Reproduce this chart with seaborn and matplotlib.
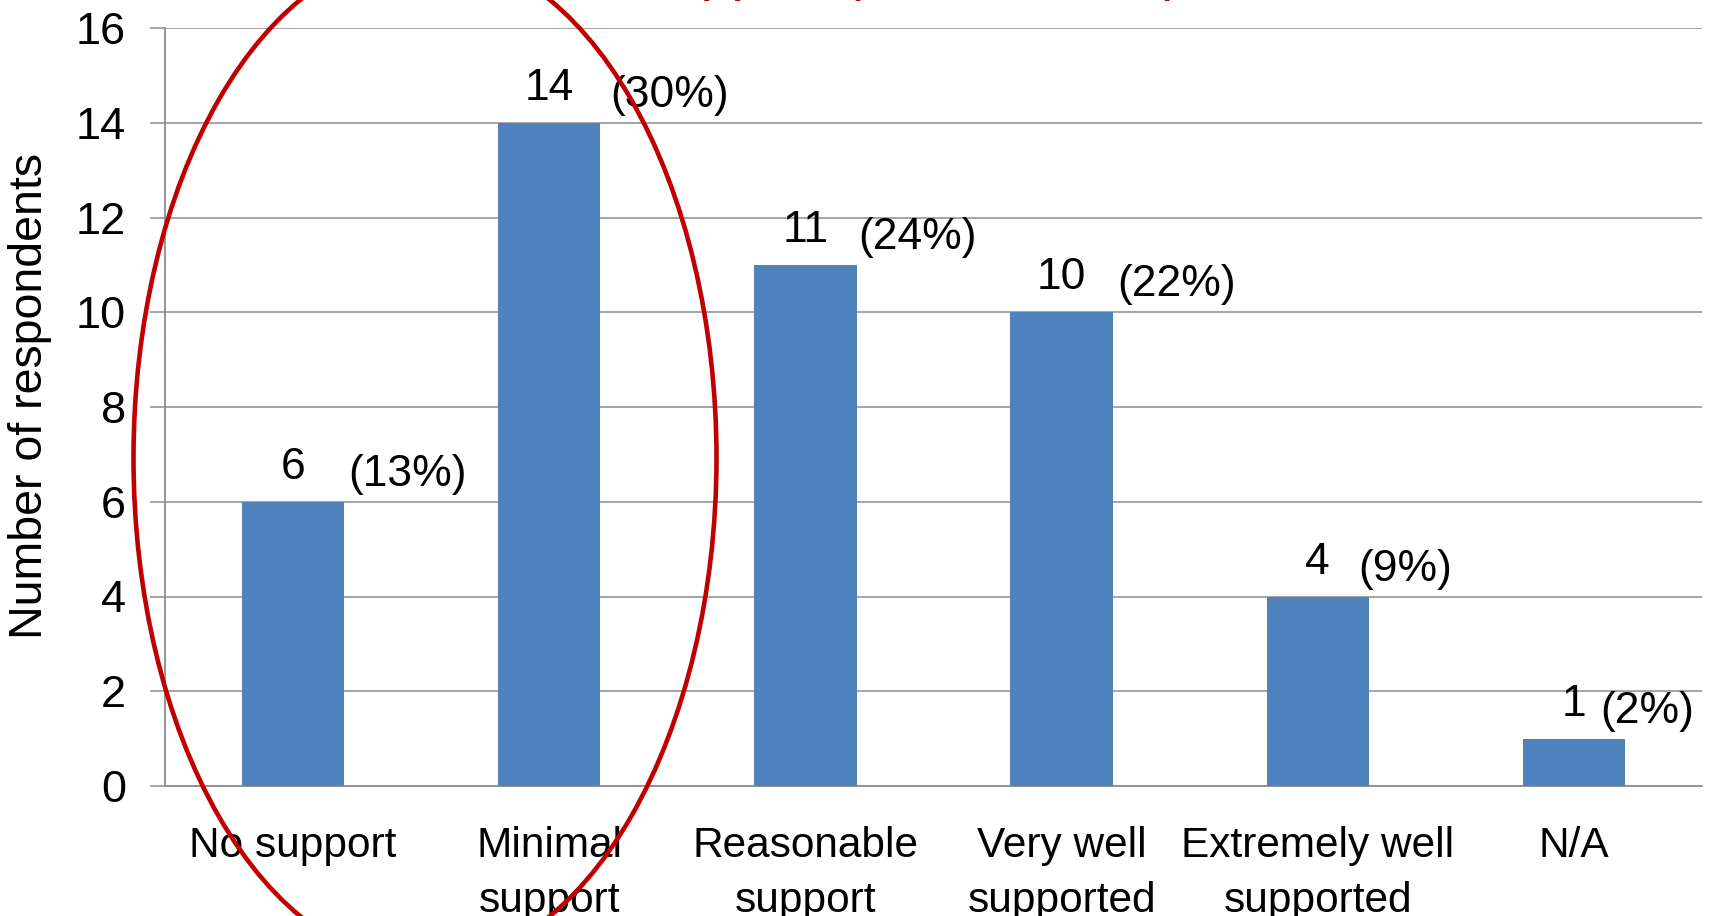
import matplotlib
matplotlib.use("Agg")
import matplotlib.pyplot as plt
import seaborn as sns
import pandas as pd
from matplotlib.patches import Ellipse

categories = ["No support", "Minimal\nsupport", "Reasonable\nsupport",
              "Very well\nsupported", "Extremely well\nsupported", "N/A"]
counts = [6, 14, 11, 10, 4, 1]
percents = ["(13%)", "(30%)", "(24%)", "(22%)", "(9%)", "(2%)"]
y_ticks = [0, 2, 4, 6, 8, 10, 12, 14, 16]
y_label = "Number of respondents"
title_text = "Level of support (little or none)"

# style-only: horizontal offsets (points) of the percent labels
pct_offsets = [40, 44, 38, 40, 29, 19]

sns.set_theme(style="white")
plt.rcParams["font.family"] = ["Liberation Sans", "DejaVu Sans"]
plt.rcParams["text.color"] = "black"
plt.rcParams["axes.labelcolor"] = "black"
plt.rcParams["xtick.labelcolor"] = "black"
plt.rcParams["ytick.labelcolor"] = "black"

FS_X = 30.5
FS_Y = 32.5
FS_DATA = 32

df = pd.DataFrame({"category": categories, "count": counts})

fig = plt.figure(figsize=(17.1, 9.16), dpi=100)
ax = fig.add_axes([165 / 1710, 1 - 786 / 916, (1702 - 165) / 1710, (786 - 28) / 916])

sns.barplot(data=df, x="category", y="count", order=categories, color="#4F81BD",
            saturation=1, width=0.4, ax=ax, zorder=3, edgecolor="none")

ax.set_xlim(-0.5, len(categories) - 0.5)
ax.set_ylim(0, 16)
ax.set_yticks(y_ticks)
ax.set_yticklabels([str(v) for v in y_ticks], fontsize=FS_Y)
ax.yaxis.grid(True, color="#8c8c8c", linewidth=1.1, zorder=0)
ax.xaxis.grid(False)
ax.set_axisbelow(True)

ax.set_xticks(range(len(categories)))
ax.set_xticklabels(categories, fontsize=FS_X, linespacing=1.47)
ax.set_xticks([i - 0.5 for i in range(len(categories) + 1)], minor=True)
ax.tick_params(axis="x", which="major", length=0, pad=29)
ax.tick_params(axis="x", which="minor", length=10, width=1.1, color="#8c8c8c", direction="out")
ax.tick_params(axis="y", which="major", length=11, width=1.1, color="#8c8c8c", direction="out", pad=17)
ax.tick_params(bottom=True, left=True)

for s in ["top", "right"]:
    ax.spines[s].set_visible(False)
for s in ["left", "bottom"]:
    ax.spines[s].set_color("#8c8c8c")
    ax.spines[s].set_linewidth(1.3)

ax.set_xlabel("")
ax.set_ylabel(y_label, fontsize=33.5, color="black")
ax.yaxis.set_label_coords(-0.0735, 0.515)

for i, (c, p) in enumerate(zip(counts, percents)):
    ax.annotate(str(c), xy=(i, c), xytext=(0, 16.5), textcoords="offset points",
                ha="center", va="baseline", fontsize=FS_DATA, color="black", zorder=5)
    ax.annotate(p, xy=(i, c), xytext=(pct_offsets[i], 11.5), textcoords="offset points",
                ha="left", va="baseline", fontsize=FS_DATA, color="black", zorder=5)

# red title, mostly cut off above the figure
fig.text(432 / 1710, 1 + 11 / 916, title_text, ha="left", va="baseline",
         fontsize=40, color="#C00000")

# red highlight ellipse
ell = Ellipse((425 / 1710, 1 - 458 / 916), 583 / 1710, 1014 / 916,
              transform=fig.transFigure, fill=False, edgecolor="#C00000",
              linewidth=3.3, zorder=10)
fig.patches.append(ell)

fig.savefig("out.png", dpi=100)
